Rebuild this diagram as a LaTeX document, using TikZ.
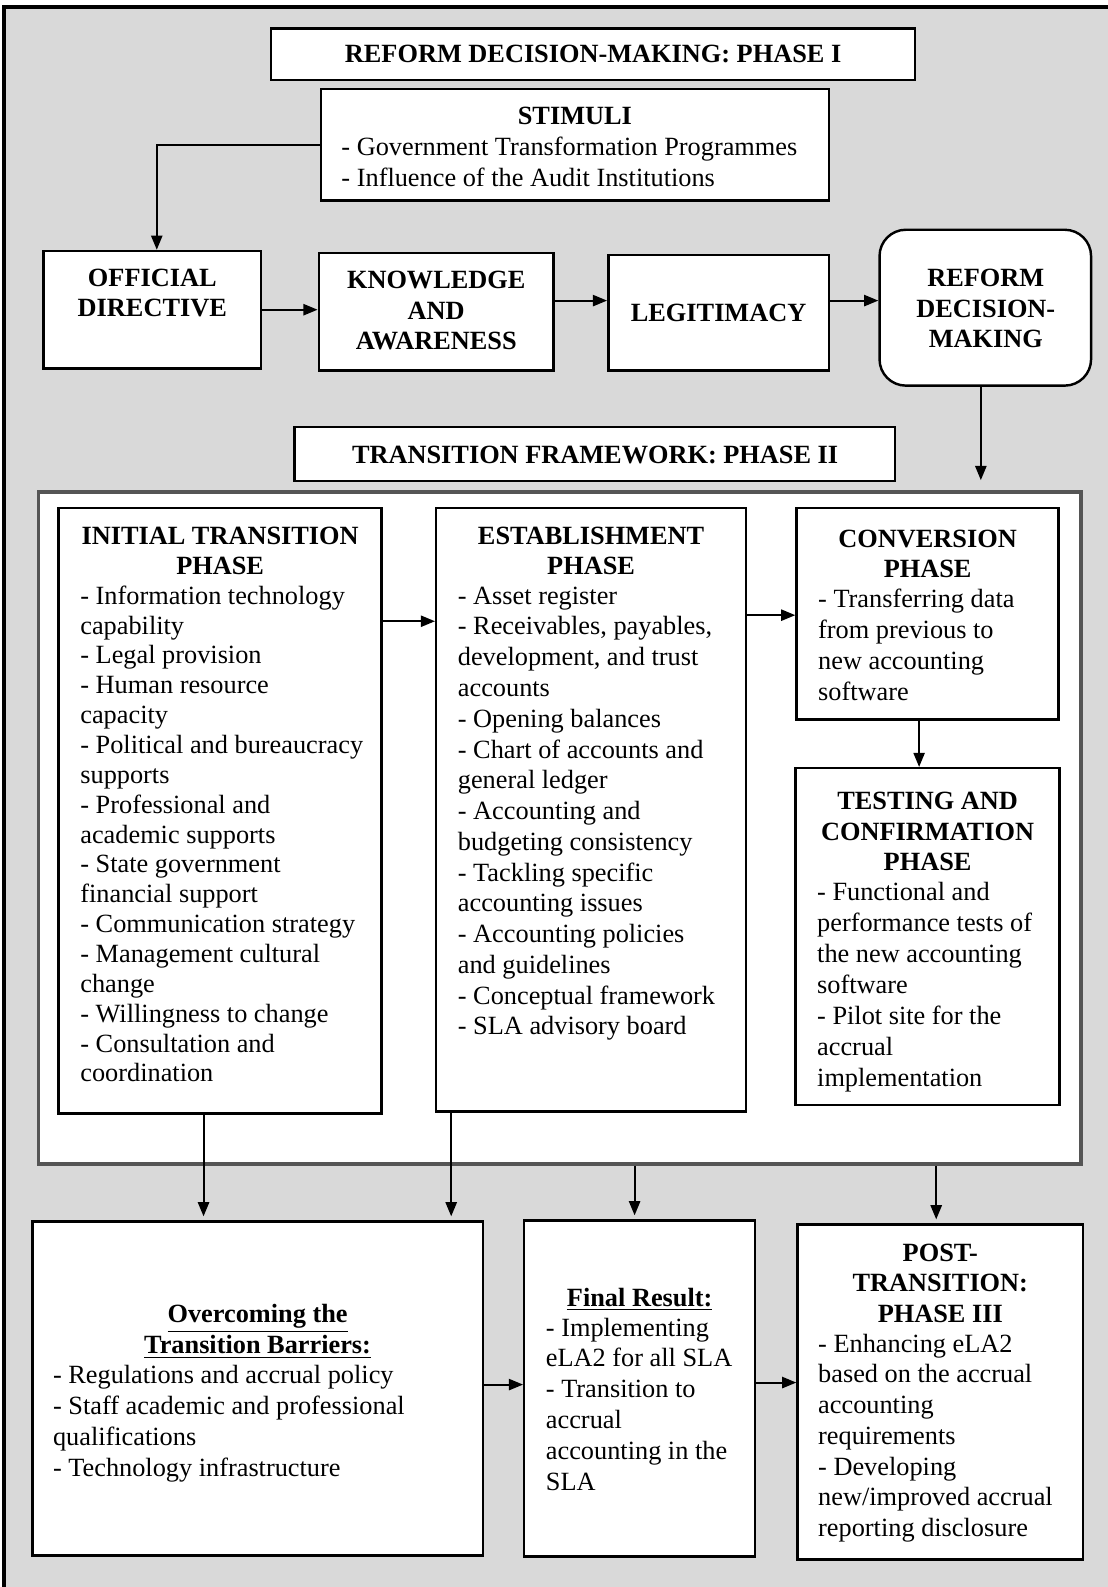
\documentclass[tikz,border=0pt]{standalone}
\usepackage{fontspec}
\setmainfont{Liberation Serif}
\usetikzlibrary{arrows.meta,fit,calc}
\definecolor{bggray}{HTML}{D9D9D9}
\definecolor{fwgray}{HTML}{555555}
\newcommand\lft[2][1]{\renewcommand\arraystretch{#1}\begin{tabular}[t]{@{}l@{}}#2\end{tabular}}
\newcommand\ctr[2][1]{\renewcommand\arraystretch{#1}\begin{tabular}[t]{@{}c@{}}#2\end{tabular}}
\begin{document}
\begin{tikzpicture}[x=0.5pt,y=-0.5pt,
  every node/.style={font=\fontsize{13}{14.75}\selectfont},
  box/.style={draw=black, line width=1.2pt, fill=white, inner sep=0pt},
  txt/.style={inner sep=0pt, anchor=base west},
  ctxt/.style={inner sep=0pt, anchor=base, font=\fontsize{13}{14.75}\selectfont\bfseries},
  arr/.style={line width=1pt, -{Triangle[length=7pt,width=5.5pt]}}
]
\useasboundingbox (0,0) rectangle (1094,1568);
% outer frame
\fill[bggray] (4,7) rectangle (1140,1620);
\draw[line width=1.6pt] (1140,7) -- (4,7) -- (4,1620);

% ---------- Phase I ----------
\node[box, fit={(268,28) (904,79)}] (p1) {};
\node[ctxt] (p1-t) at (586,61.5) {REFORM DECISION-MAKING: PHASE I};
\node[box, fit={(317,88) (819,198)}] (stim) {};
\node[ctxt] (stim-t) at (568,123) {STIMULI};
\node[txt] (stim-l) at (337,154) {\lft[1.017]{- Government Transformation Programmes\\- Influence of the Audit Institutions}};

\node[box, fit={(43,248) (258,364)}] (od) {};
\node[ctxt] (od-t) at (150.5,283) {\ctr{OFFICIAL\\DIRECTIVE}};
\node[box, fit={(315,250) (547,366)}] (ka) {};
\node[ctxt] (ka-t) at (431,285.5) {\ctr[1.017]{KNOWLEDGE\\AND\\AWARENESS}};
\node[box, fit={(601,252) (819,366)}] (leg) {};
\node[ctxt] (leg-t) at (710,317.5) {LEGITIMACY};
\node[box, rounded corners=13pt, fit={(869,227) (1078,381)}] (rdm) {};
\node[ctxt] (rdm-t) at (974,283.5) {\ctr[1.017]{REFORM\\DECISION-\\MAKING}};

\draw[arr] (stim.west) -| ([xshift=2.2pt]od.north);
\draw[arr] (od.east) -- (od.east -| ka.west);
\draw[arr] ([yshift=5.5pt]ka.east) -- ([yshift=5.5pt]ka.east -| leg.west);
\draw[arr] ([yshift=6pt]leg.east) -- ([yshift=6pt]leg.east -| rdm.west);

% ---------- Phase II ----------
\node[box, fit={(291,422) (884,475)}] (p2) {};
\node[ctxt] (p2-t) at (588,457.5) {TRANSITION FRAMEWORK: PHASE II};
\node[box, draw=fwgray, line width=1.6pt, fit={(38,486) (1068,1150)}] (fw) {};
\draw[arr, shorten >=5pt] ([xshift=-2.2pt]rdm.south) -- ([xshift=-2.2pt]rdm.south |- fw.north);

\node[box, fit={(58,502) (377,1100)}] (itp) {};
\node[ctxt] (itp-t) at (217.5,538) {\ctr{INITIAL TRANSITION\\PHASE}};
\node[txt] (itp-l) at (79,597) {\lft{- Information technology\\capability\\- Legal provision\\- Human resource\\capacity\\- Political and bureaucracy\\supports\\- Professional and\\academic supports\\- State government\\financial support\\- Communication strategy\\- Management cultural\\change\\- Willingness to change\\- Consultation and\\coordination}};

\node[box, fit={(431,502) (737,1098)}] (ep) {};
\node[ctxt] (ep-t) at (584,538) {\ctr{ESTABLISHMENT\\PHASE}};
\node[txt] (ep-l) at (452,597) {\lft[1.03]{- Asset register\\- Receivables, payables,\\development, and trust\\accounts\\- Opening balances\\- Chart of accounts and\\general ledger\\- Accounting and\\budgeting consistency\\- Tackling specific\\accounting issues\\- Accounting policies\\and guidelines\\- Conceptual framework\\- SLA advisory board}};

\node[box, fit={(787,502) (1046,711)}] (cp) {};
\node[ctxt] (cp-t) at (916.5,541) {\ctr{CONVERSION\\PHASE}};
\node[txt] (cp-l) at (808,600) {\lft[1.04]{- Transferring data\\from previous to\\new accounting\\software}};

\node[box, fit={(786,759) (1047,1092)}] (tcp) {};
\node[ctxt] (tcp-t) at (916.5,800) {\ctr[1.017]{TESTING AND\\CONFIRMATION\\PHASE}};
\node[txt] (tcp-l) at (807,890) {\lft[1.034]{- Functional and\\performance tests of\\the new accounting\\software\\- Pilot site for the\\accrual\\implementation}};

\draw[arr] ([yshift=-56.5pt]itp.north east) -- ([yshift=-56.5pt]itp.north east -| ep.west);
\draw[arr] ([yshift=-53.5pt]ep.north east) -- ([yshift=-53.5pt]ep.north east -| cp.west);
\draw[arr] ([xshift=-4.2pt]cp.south) -- ([xshift=-4.2pt]cp.south |- tcp.north);

% ---------- Results ----------
\node[box, fit={(32,1207) (477,1537)}] (ovc) {};
\node[ctxt] (ovc-t) at (254.5,1307) {\ctr[1.017]{\underline{Overcoming the}\\\underline{Transition Barriers:}}};
\node[txt] (ovc-l) at (52,1367) {\lft[1.04]{- Regulations and accrual policy\\- Staff academic and professional\\qualifications\\- Technology infrastructure}};

\node[box, fit={(518,1206) (746,1538)}] (fin) {};
\node[ctxt] (fin-t) at (632,1291) {\underline{Final Result:}};
\node[txt] (fin-l) at (539,1320) {\lft[1.035]{- Implementing\\eLA2 for all SLA\\- Transition to\\accrual\\accounting in the\\SLA}};

\node[box, fit={(788,1210) (1070,1541)}] (pt) {};
\node[ctxt] (pt-t) at (929,1246) {\ctr[1.02]{POST-\\TRANSITION:\\PHASE III}};
\node[txt] (pt-l) at (808,1336) {\lft[1.03]{- Enhancing eLA2\\based on the accrual\\accounting\\requirements\\- Developing\\new/improved accrual\\reporting disclosure}};

\draw[arr, shorten >=2pt] ([xshift=-8.2pt]itp.south) -- ([xshift=-8.2pt]itp.south |- ovc.north);
\draw[arr, shorten >=2pt] ([xshift=8pt]ep.south west) -- ([xshift=8pt]ep.south west |- ovc.north);
\draw[arr, shorten >=2pt] ([xshift=-2.5pt]fin.north |- fw.south) -- ([xshift=-2.5pt]fin.north);
\draw[arr, shorten >=2pt] ([xshift=-2pt]pt.north |- fw.south) -- ([xshift=-2pt]pt.north);
\draw[arr] ([yshift=2pt]ovc.east) -- ([yshift=2pt]ovc.east -| fin.west);
\draw[arr] ([yshift=3pt]fin.east) -- ([yshift=3pt]fin.east -| pt.west);
\end{tikzpicture}
\end{document}
